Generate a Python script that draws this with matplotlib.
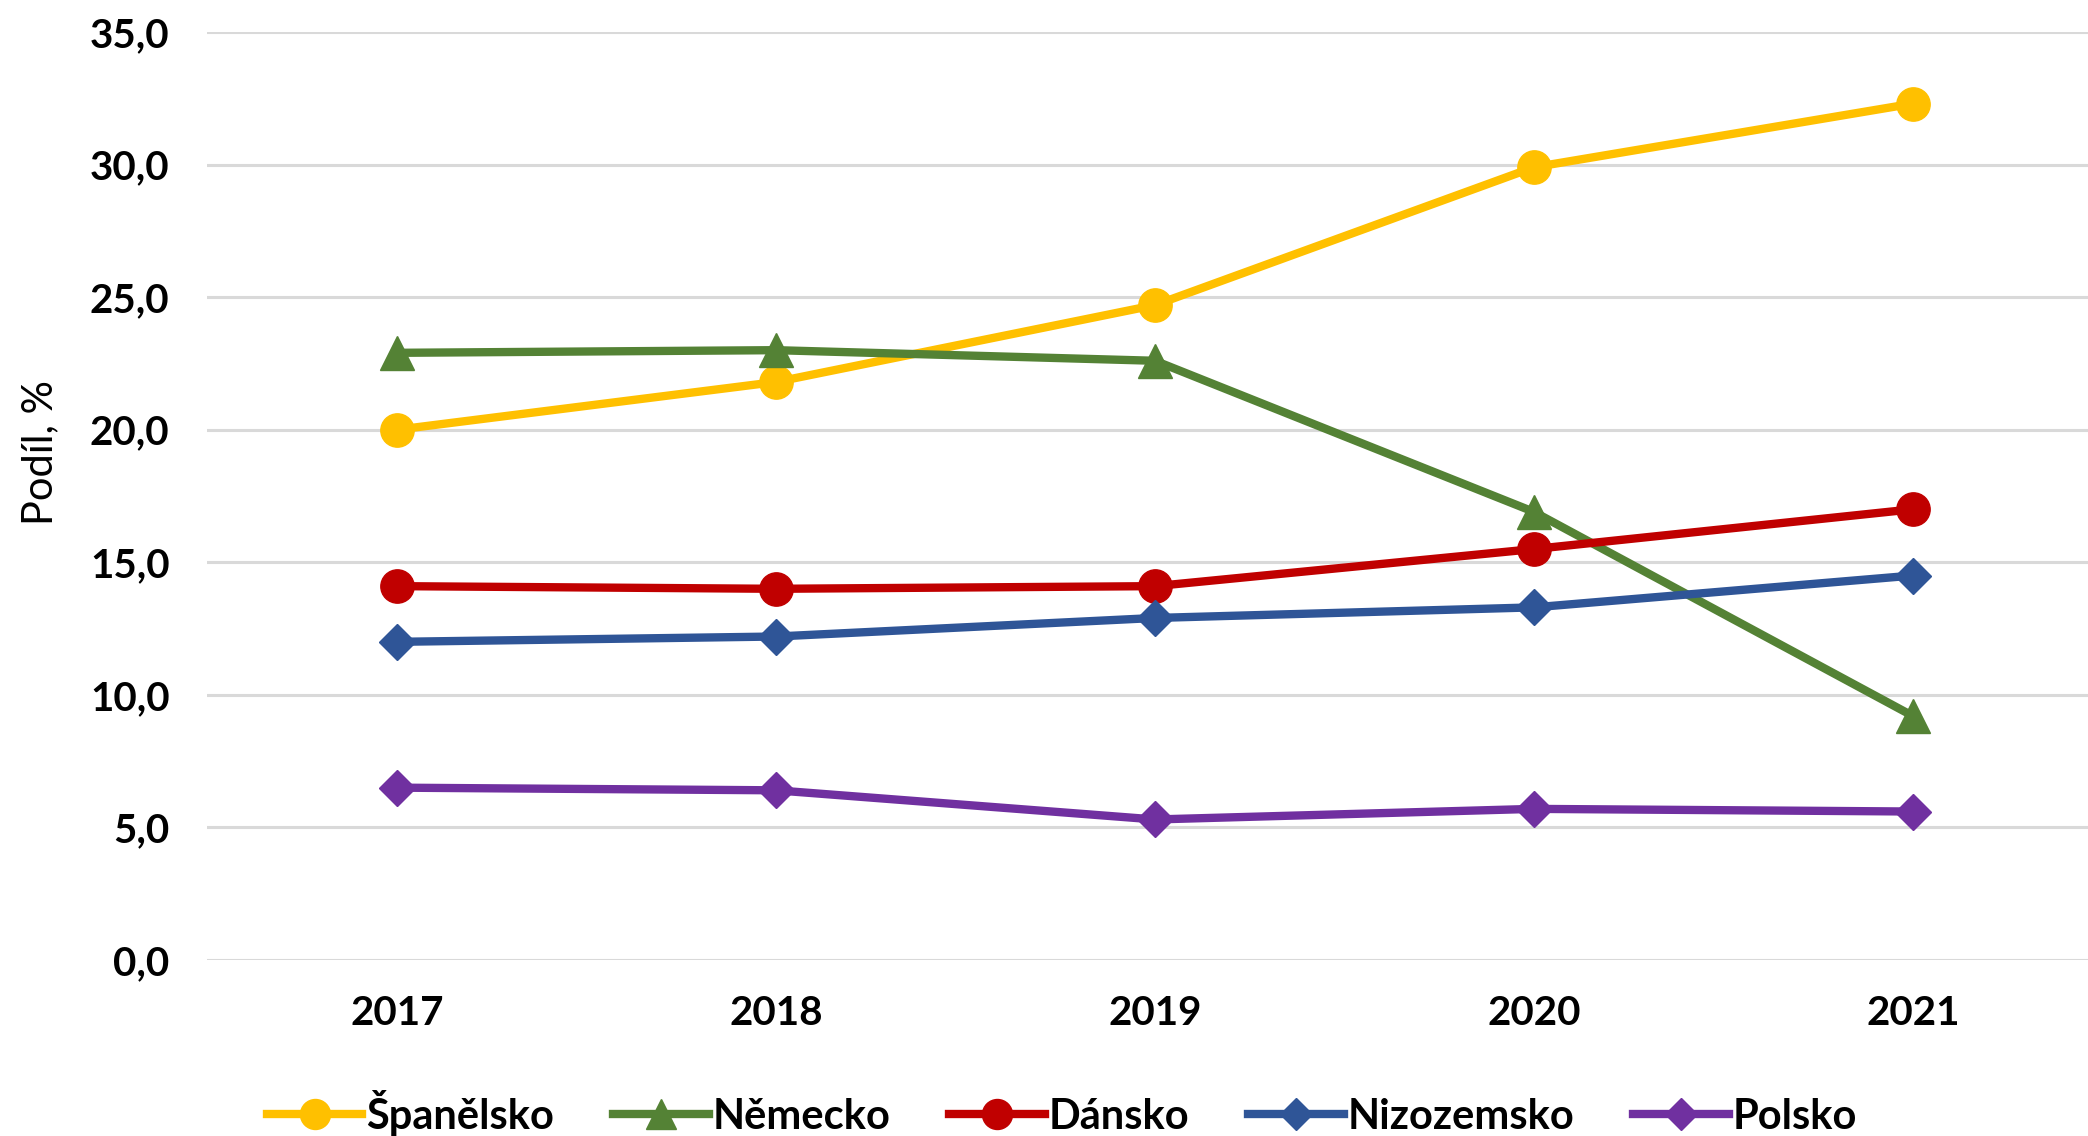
import matplotlib.pyplot as plt

# data
years = ['2017', '2018', '2019', '2020', '2021']
spanelsko = [20.0, 21.8, 24.7, 29.9, 32.3]
nemecko = [22.9, 23.0, 22.6, 16.9, 9.2]
dansko = [14.1, 14.0, 14.1, 15.5, 17.0]
nizozemsko = [12.0, 12.2, 12.9, 13.3, 14.5]
polsko = [6.5, 6.4, 5.3, 5.7, 5.6]
y_ticks = [0, 5, 10, 15, 20, 25, 30, 35]

plt.rcParams['font.family'] = ['Lato', 'DejaVu Sans']

W, H = 2088, 1136
fig = plt.figure(figsize=(W / 100, H / 100), dpi=100)
ax = fig.add_axes([207 / W, (H - 960) / H, (2103 - 207) / W, (960 - 32) / H])

x = range(len(years))
lw = 6
ax.plot(x, spanelsko, color='#FFC000', lw=lw, marker='o', ms=24, label='Španělsko', zorder=3)
ax.plot(x, nemecko, color='#548235', lw=lw, marker='^', ms=24, label='Německo', zorder=3)
ax.plot(x, dansko, color='#C00000', lw=lw, marker='o', ms=24, label='Dánsko', zorder=3)
ax.plot(x, nizozemsko, color='#2F5597', lw=lw, marker='D', ms=18, label='Nizozemsko', zorder=3)
ax.plot(x, polsko, color='#7030A0', lw=lw, marker='D', ms=18, label='Polsko', zorder=3)

ax.set_xlim(-0.5013, 4.5013)
ax.set_ylim(0, 35)
ax.set_xticks(list(x))
ax.set_xticklabels(years)
ax.set_yticks(y_ticks)
ax.set_yticklabels([f'{v:.1f}'.replace('.', ',') for v in y_ticks])
ax.tick_params(length=0, labelsize=29)
ax.tick_params(axis='x', pad=25)
ax.tick_params(axis='y', pad=27)
for lab in ax.get_xticklabels() + ax.get_yticklabels():
    lab.set_fontweight('bold')

ax.grid(axis='y', color='#D9D9D9', lw=2.2)
ax.set_axisbelow(True)
for s in ax.spines.values():
    s.set_visible(False)

fig.text(40 / W, 1 - 453 / H, 'Podíl, %', rotation=90, fontsize=30,
         ha='center', va='center')

fig.legend(loc='center', bbox_to_anchor=(1062 / W, 1 - 1113 / H), ncol=5,
           frameon=False, prop={'weight': 'bold', 'size': 30},
           handlelength=2.3, handletextpad=0.1, columnspacing=1.4,
           markerscale=0.9)

fig.savefig('out.png', dpi=100)
